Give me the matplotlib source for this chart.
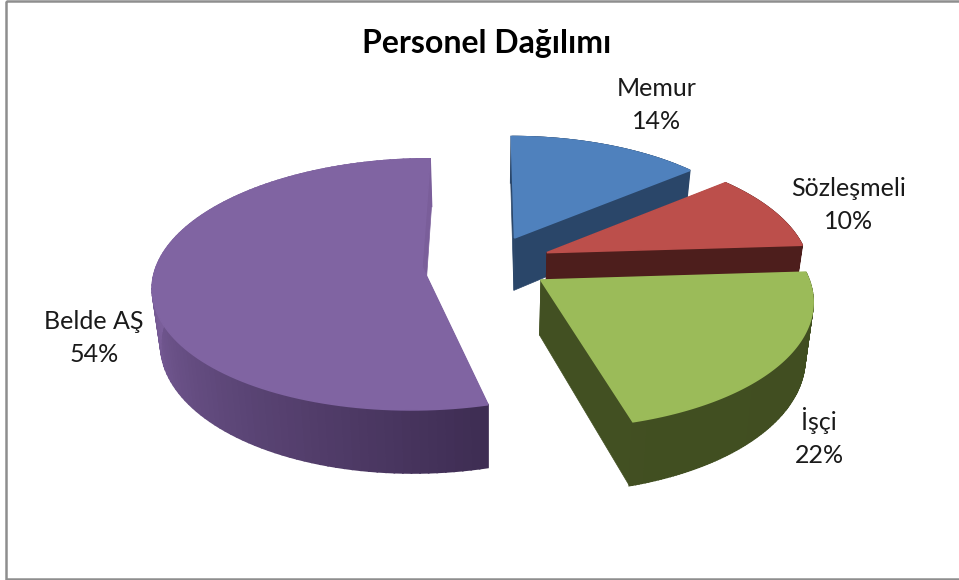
import numpy as np
import matplotlib
matplotlib.use("Agg")
import matplotlib.pyplot as plt
from matplotlib.colors import to_rgb
from matplotlib.patches import Polygon, Rectangle

# veriler
labels = ["Memur", "Sözleşmeli", "İşçi", "Belde AŞ"]
shares = [14, 10, 22, 54]
top_colors = ["#4f81bd", "#bc4f4b", "#9bbb59", "#8064a2"]
side_colors = ["#2a4669", "#4d1e1c", "#404d20", "#3e2d53"]
side_light = ["#2a4669", "#4d1e1c", "#425022", "#7a5e9a"]
label_pos = [(657, 105), (849, 205), (819, 437), (94, 338)]

# kamera: perspektif sahne, piksel cinsinden
cx, cy = 488, 263
fx, fy = 274, 122
persp = 0.14
depth = 54
shrink = 0.975
# dilim başına ince ayar
explode = [0.234, 0.234, 0.234, 0.242]
radius_x = [0.94, 0.955, 0.96, 0.965]
end_nudge = [0, 0, -1.2, 0]


def project(X, Y, lower=False):
    w = 1 / (1 + persp * Y)
    x = fx * X * w
    y = cy - fy * Y * w
    if lower:
        return cx + x * shrink, y + depth * w
    return cx + x, y


def mix(c1, c2, t):
    return tuple((1 - t) * a + t * b for a, b in zip(to_rgb(c1), to_rgb(c2)))


fig = plt.figure(figsize=(9.59, 5.8), dpi=100, facecolor="white")
ax = fig.add_axes([0, 0, 1, 1])
ax.set_xlim(0, 959)
ax.set_ylim(580, 0)
ax.axis("off")

# dış çerçeve
ax.add_patch(Rectangle((6, 1), 970, 577.5, fill=False, ec="#8e8e8e", lw=1.8))

# dilim açıları (saat yönünde, tepeden)
edges = np.radians(np.cumsum([0] + shares) * 3.6)

# çizim sırası: arkadan öne
for i in [0, 1, 3, 2]:
    t0, t1 = edges[i], edges[i + 1]
    mid = (t0 + t1) / 2
    ox, oy = explode[i] * np.sin(mid), explode[i] * np.cos(mid)
    t = np.linspace(t0, t1 + np.radians(end_nudge[i]), 120)
    X = ox + radius_x[i] * np.sin(t)
    Y = oy + np.cos(t)

    ux, uy = project(X, Y)
    lx, ly = project(X, Y, lower=True)
    ax_, ay_ = project(ox, oy)
    bx_, by_ = project(ox, oy, lower=True)

    # düz yan yüzler
    ax.add_patch(Polygon([(ax_, ay_), (ux[0], uy[0]), (lx[0], ly[0]), (bx_, by_)],
                         fc=side_colors[i], ec=side_colors[i], lw=0.5))
    ax.add_patch(Polygon([(ax_, ay_), (ux[-1], uy[-1]), (lx[-1], ly[-1]), (bx_, by_)],
                         fc=side_light[i], ec=side_light[i], lw=0.5))

    # kavisli dış yüz, renk geçişli
    for k in range(len(t) - 1):
        s = np.clip(np.degrees(t[k] - t0) / 100, 0, 1)
        col = mix(side_colors[i], side_light[i], s)
        ax.add_patch(Polygon([(ux[k], uy[k]), (ux[k + 1], uy[k + 1]),
                              (lx[k + 1], ly[k + 1]), (lx[k], ly[k])],
                             fc=col, ec=col, lw=1.2))

    # üst yüz
    pts = [(ax_, ay_)] + list(zip(ux, uy))
    ax.add_patch(Polygon(pts, fc=top_colors[i], ec=top_colors[i], lw=1.2))

ax.text(487, 44, "Personel Dağılımı", ha="center", va="center", fontsize=23,
        fontweight="bold", family="Lato", color="black")

for name, val, (x, y) in zip(labels, shares, label_pos):
    ax.text(x, y, f"{name}\n{val}%", ha="center", va="center", fontsize=18,
            family="Lato", color="#1a1a1a", linespacing=1.5)

fig.savefig("out.png", dpi=100)
